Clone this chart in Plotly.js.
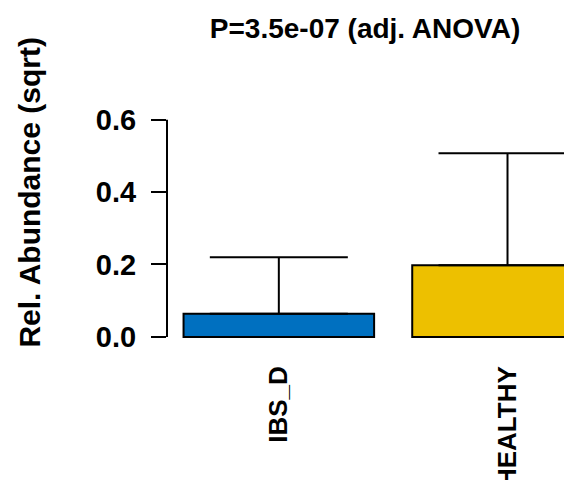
<!DOCTYPE html>
<html>
<head>
<meta charset="utf-8">
<script src="https://cdn.plot.ly/plotly-3.0.1.min.js"></script>
<style>
html,body{margin:0;padding:0;background:#fff;}
#chart{width:564px;height:480px;}
</style>
</head>
<body>
<div id="chart"></div>
<script>
// Data
var groups = ["IBS_D", "HEALTHY"];
var meanValues = [0.064, 0.198];
var upperValues = [0.22, 0.507];
var barColors = ["#0070C0", "#EDC000"];
var yTickVals = [0, 0.2, 0.4, 0.6];
var yTickText = ["0.0", "0.2", "0.4", "0.6"];
var titleText = "P=3.5e-07 (adj. ANOVA)";
var yTitleText = "Rel. Abundance (sqrt)";

var errPlus = upperValues.map(function (u, i) { return u - meanValues[i]; });
var errMinus = meanValues.map(function () { return 0; });

var FONT = "Liberation Sans, Arial, Helvetica, sans-serif";
var yRange = [-0.05, 0.6599];

var trace = {
  type: "bar",
  x: groups,
  y: meanValues,
  marker: { color: barColors, line: { color: "#000", width: 2 } },
  error_y: {
    type: "data", symmetric: false, array: errPlus, arrayminus: errMinus,
    color: "#000", thickness: 2, width: 69
  },
  hoverinfo: "skip"
};

var layout = {
  width: 564, height: 480,
  margin: { l: 167, r: 0, t: 98, b: 125, pad: 0 },
  paper_bgcolor: "#fff", plot_bgcolor: "#fff",
  showlegend: false,
  bargap: 0.1667,
  font: { family: FONT, color: "#000" },
  title: {
    text: titleText,
    font: { family: FONT, size: 28, weight: "bold", color: "#000" },
    xref: "container", x: 365 / 564, xanchor: "center",
    yref: "container", y: 1 - 28 / 480, yanchor: "middle"
  },
  xaxis: {
    type: "category",
    range: [-0.489, 1.247],
    showline: false, showgrid: false, zeroline: false,
    ticks: "", tickangle: -90,
    tickfont: { family: FONT, size: 26, weight: "bold", color: "#000" },
    ticklabelstandoff: 5
  },
  yaxis: {
    range: yRange,
    showline: false, showgrid: false, zeroline: false,
    ticks: "outside", ticklen: 15, tickwidth: 2, tickcolor: "#000",
    tickvals: yTickVals, ticktext: yTickText,
    ticklabelstandoff: 9,
    tickfont: { family: FONT, size: 29, weight: "bold", color: "#000" }
  },
  shapes: [{
    type: "line", xref: "paper", yref: "y",
    x0: 0, x1: 0, y0: yTickVals[0], y1: yTickVals[yTickVals.length - 1],
    line: { color: "#000", width: 2 }
  }],
  annotations: [{
    text: yTitleText, textangle: -90, showarrow: false,
    xref: "paper", yref: "paper",
    x: (30 - 167) / 397, y: (355.4 - 193) / 257,
    xanchor: "center", yanchor: "middle",
    font: { family: FONT, size: 30, weight: "bold", color: "#000" }
  }]
};

Plotly.newPlot("chart", [trace], layout, { staticPlot: true, displayModeBar: false });
</script>
</body>
</html>
